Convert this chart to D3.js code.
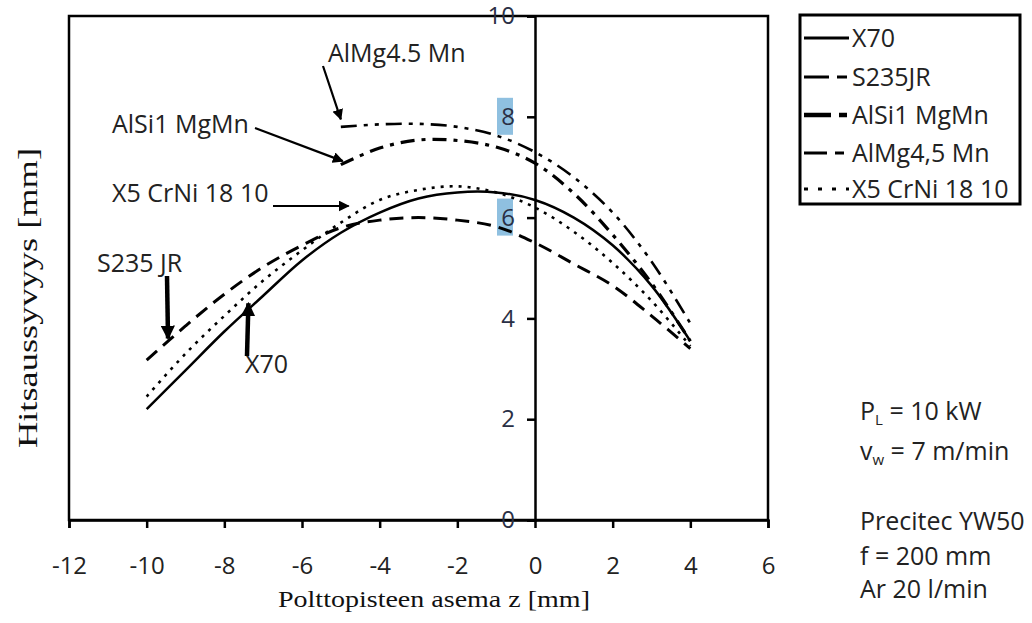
<!DOCTYPE html>
<html><head><meta charset="utf-8">
<script src="https://cdn.jsdelivr.net/npm/d3@7"></script>
<style>body{margin:0;background:#fff}</style>
</head><body><svg id="c" width="1032" height="623"></svg>
<script>
// ---- data ----
const zSteel = [-10,-9,-8,-7,-6,-5,-4,-3,-2,-1,0,1,2,3,4];
const x70    = [2.2,2.97,3.74,4.45,5.15,5.7,6.1,6.38,6.5,6.5,6.35,6.0,5.45,4.65,3.55];
const s235jr = [3.17,3.85,4.48,5.02,5.45,5.8,5.95,6.0,5.95,5.82,5.5,5.08,4.65,4.05,3.4];
const x5CrNi = [2.45,3.3,4.05,4.75,5.35,5.9,6.35,6.55,6.62,6.5,6.2,5.72,5.1,4.35,3.45];
const zAlu   = [-5,-4,-3,-2,-1,0,1,2,3,4];
const alSi1  = [7.05,7.38,7.54,7.53,7.4,7.08,6.48,5.66,4.7,3.55];
const alMg45 = [7.8,7.85,7.86,7.8,7.63,7.3,6.8,6.1,5.13,3.9];
const seriesNames = ["X70","S235JR","AlSi1 MgMn","AlMg4,5 Mn","X5 CrNi 18 10"];
const xTicks = [-12,-10,-8,-6,-4,-2,0,2,4,6];
const yTicks = [0,2,4,6,8,10];
const xTitle = "Polttopisteen asema z [mm]";
const yTitle = "Hitsaussyvyys [mm]";

const series = [
  {name: seriesNames[0], z: zSteel, v: x70},
  {name: seriesNames[1], z: zSteel, v: s235jr},
  {name: seriesNames[2], z: zAlu,   v: alSi1},
  {name: seriesNames[3], z: zAlu,   v: alMg45},
  {name: seriesNames[4], z: zSteel, v: x5CrNi}
];
const styles = {
  "X70":           {w: 2.5, dash: null,            legDash: null},
  "S235JR":        {w: 3,   dash: "14,8",          legDash: "25,8,10,20"},
  "AlSi1 MgMn":    {w: 3.2, dash: "14,7,4,7",      legDash: "27,8,8,20"},
  "AlMg4,5 Mn":    {w: 2.6, dash: "16,7,4,7,4,7",  legDash: "23,8,9,20"},
  "X5 CrNi 18 10": {w: 2.6, dash: "3,6",           legDash: "4,10"}
};

const svg = d3.select("#c");
const SANS = "'Open Sans', sans-serif";
const SERIF = "'Liberation Serif', 'Times New Roman', serif";
const x = d3.scaleLinear().domain([-12,6]).range([69,768]);
const y = d3.scaleLinear().domain([0,10]).range([520,16]);

// highlight boxes behind 8 and 6 labels
[8,6].forEach(v => {
  svg.append("rect").attr("x", 497).attr("y", y(v)-19).attr("width", 16).attr("height", 37)
     .attr("fill", "#8fc0e0");
});

// plot frame
svg.append("rect").attr("x", x(-12)).attr("y", y(10)).attr("width", x(6)-x(-12)).attr("height", y(0)-y(10))
   .attr("fill","none").attr("stroke","#000").attr("stroke-width",2.5);

// x axis
const xAxis = svg.append("g").attr("transform",`translate(0,${y(0)})`)
  .call(d3.axisBottom(x).tickValues(xTicks).tickSize(8).tickPadding(29).tickFormat(d3.format("d")));
xAxis.select(".domain").attr("stroke-width",2.5);
xAxis.selectAll(".tick line").attr("stroke-width",2.5);
xAxis.selectAll("text").attr("font-family",SANS).attr("font-size",24).attr("fill","#222")
  .text(d => (d<0 ? "-" + Math.abs(d) : d));

// y axis at z = 0
const yAxis = svg.append("g").attr("transform",`translate(${x(0)},0)`)
  .call(d3.axisLeft(y).tickValues(yTicks).tickSize(8).tickPadding(12));
yAxis.select(".domain").attr("stroke-width",2.5);
yAxis.selectAll(".tick line").attr("stroke-width",2.5);
yAxis.selectAll("text").attr("font-family",SANS).attr("font-size",24).attr("fill","#2a2f45");

// series
const line = d3.line().x(d => x(d[0])).y(d => y(d[1])).curve(d3.curveCatmullRom.alpha(0.5));
series.forEach(s => {
  const st = styles[s.name];
  svg.append("path").datum(s.z.map((z,i)=>[z, s.v[i]]))
    .attr("d", line).attr("fill","none").attr("stroke","#000")
    .attr("stroke-width", st.w).attr("stroke-dasharray", st.dash);
});

// arrow marker
const defs = svg.append("defs");
defs.append("marker").attr("id","ah").attr("viewBox","0 0 10 10").attr("refX",9).attr("refY",5)
  .attr("markerWidth",5).attr("markerHeight",5).attr("orient","auto-start-reverse")
  .attr("markerUnits","strokeWidth")
  .append("path").attr("d","M0,0 L10,5 L0,10 z").attr("fill","#000");
defs.append("marker").attr("id","ah2").attr("viewBox","0 0 10 10").attr("refX",9).attr("refY",5)
  .attr("markerWidth",3.2).attr("markerHeight",3.2).attr("orient","auto-start-reverse")
  .attr("markerUnits","strokeWidth")
  .append("path").attr("d","M0,0 L10,5 L0,10 z").attr("fill","#000");

// annotations: label text, text anchor point (px), arrow start (px), arrow tip (data)
const annotations = [
  {t:"AlMg4.5 Mn",   tx:328, ty:62,  sx:323, sy:66,  tip:[-5.0, 7.95], w:2.2, m:"ah"},
  {t:"AlSi1 MgMn",   tx:112, ty:133, sx:255, sy:128, tip:[-4.95, 7.12], w:2.2, m:"ah"},
  {t:"X5 CrNi 18 10",tx:112, ty:202, sx:273, sy:206, tip:[-4.8, 6.23], w:2.2, m:"ah"},
  {t:"S235 JR",      tx:97,  ty:272, sx:167, sy:276, tip:[-9.45, 3.6], w:4.5, m:"ah2"},
  {t:"X70",          tx:245, ty:373, sx:247, sy:356, tip:[-7.38, 4.3], w:4.5, m:"ah2"}
];
annotations.forEach(a => {
  svg.append("text").attr("x",a.tx).attr("y",a.ty).text(a.t)
    .attr("font-family",SANS).attr("font-size",25).attr("fill","#222");
  svg.append("line").attr("x1",a.sx).attr("y1",a.sy)
    .attr("x2", a.sx === undefined ? 0 : x(a.tip[0])).attr("y2", y(a.tip[1]))
    .attr("stroke","#000").attr("stroke-width",a.w).attr("marker-end",`url(#${a.m})`);
});

// axis titles
svg.append("text").attr("x",434).attr("y",607).attr("text-anchor","middle")
  .attr("font-family",SERIF).attr("font-size",23).attr("fill","#111")
  .attr("textLength",312).attr("lengthAdjust","spacingAndGlyphs").text(xTitle);
svg.append("text").attr("transform","translate(37,298) rotate(-90)").attr("text-anchor","middle")
  .attr("font-family",SERIF).attr("font-size",28).attr("fill","#111")
  .attr("textLength",300).attr("lengthAdjust","spacingAndGlyphs").text(yTitle);

// legend
const leg = svg.append("g");
leg.append("rect").attr("x",800).attr("y",15).attr("width",220).attr("height",189)
  .attr("fill","#fff").attr("stroke","#000").attr("stroke-width",3);
const legBase = [47,86,124,162,198];
series.forEach((s,i) => {
  const st = styles[s.name];
  const cy = legBase[i]-9;
  leg.append("line").attr("x1",804).attr("x2",849).attr("y1",cy).attr("y2",cy)
    .attr("stroke","#000").attr("stroke-width", s.name==="AlSi1 MgMn" ? 4.5 : 3)
    .attr("stroke-dasharray", st.legDash);
  leg.append("text").attr("x",852).attr("y",legBase[i]).text(s.name)
    .attr("font-family",SANS).attr("font-size",25).attr("fill","#222");
});

// process parameters
const info = svg.append("g").attr("font-family",SANS).attr("font-size",25).attr("fill","#222");
const t1 = info.append("text").attr("x",860).attr("y",420);
t1.append("tspan").text("P");
t1.append("tspan").attr("font-size",15).attr("dy",5).text("L");
t1.append("tspan").attr("dy",-5).text(" = 10 kW");
const t2 = info.append("text").attr("x",860).attr("y",460);
t2.append("tspan").text("v");
t2.append("tspan").attr("font-size",15).attr("dy",5).text("w");
t2.append("tspan").attr("dy",-5).text(" = 7 m/min");
info.append("text").attr("x",860).attr("y",530).text("Precitec YW50");
info.append("text").attr("x",860).attr("y",565).text("f = 200 mm");
info.append("text").attr("x",860).attr("y",598).text("Ar 20 l/min");
</script></body></html>
